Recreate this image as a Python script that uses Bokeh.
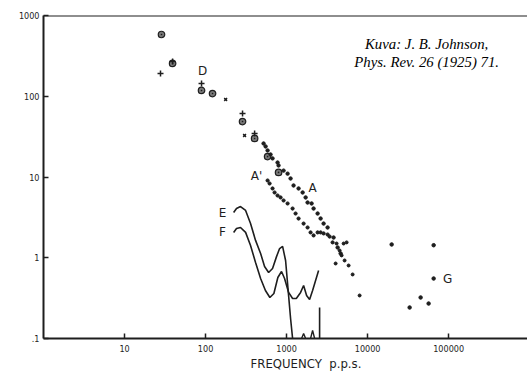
from bokeh.plotting import figure
from bokeh.models import FixedTicker, Span, Label
from bokeh.embed import file_html
from bokeh.resources import INLINE

# ---- data ----
# D: circled points
d_circ_f = [28.6, 39.2, 89.2, 122, 286, 403, 583, 796]
d_circ_v = [582, 255, 118, 108, 48.6, 30.0, 17.9, 11.4]
# D: plus points
d_plus_f = [27.8, 39.2, 89.2, 286, 403]
d_plus_v = [191, 270, 144, 61.1, 34.6]
# D: small points
d_small_f = [177, 303]
d_small_v = [91.2, 32.7]

# A (upper run)
a_f = [520, 551, 583, 634, 671, 774, 796, 918, 1029, 1120, 1219, 1406, 1578,
       1718, 1816, 2036, 2154, 2415, 2630, 2864, 3207, 3802, 4265, 4645]
a_v = [26.0, 23.9, 21.3, 19.0, 17.0, 15.1, 13.9, 12.0, 11.0, 9.58, 7.85, 7.21,
       6.43, 5.58, 4.83, 4.70, 4.07, 3.53, 3.06, 2.65, 2.37, 1.78, 1.34, 1.13]
# A' (lower run)
ap_f = [583, 617, 671, 711, 774, 843, 918, 1029, 1186, 1291, 1406, 1622, 1816,
        1977, 2154, 2415, 2630, 2864, 3207, 3396, 3698]
ap_v = [9.05, 8.31, 7.21, 6.43, 5.90, 5.58, 5.12, 4.70, 4.07, 3.53, 3.06, 2.65,
        2.37, 2.06, 1.89, 2.06, 2.06, 2.00, 1.94, 1.83, 1.55]
# common tail
tail_f = [4140, 4510, 4775, 5200, 5825, 6531, 4027, 7962, 5058, 5508]
tail_v = [1.50, 1.23, 1.07, 0.925, 0.802, 0.621, 0.849, 0.341, 1.50, 1.55]

# G
g_f = [19800, 65300, 65300, 45100, 56600, 33000]
g_v = [1.46, 1.43, 0.553, 0.322, 0.271, 0.242]

# E curve
e_f = [222, 241, 270, 312, 359, 414, 478, 535, 600, 671, 753, 820, 893, 972,
       1059, 1120, 1186]
e_v = [3.63, 4.07, 4.31, 3.85, 2.65, 1.64, 1.13, 0.780, 0.657, 0.736, 1.04,
       1.30, 1.38, 0.924, 0.340, 0.177, 0.1]
# small bumps and spike near the bottom
b1_f = [1531, 1622, 1718]
b1_v = [0.1, 0.115, 0.1]
b2_f = [1977, 2094, 2218]
b2_v = [0.1, 0.126, 0.1]
sp_f = [2555, 2555]
sp_v = [0.1, 0.242]

# F curve
f_f = [222, 241, 270, 312, 359, 414, 478, 548, 622, 697, 780, 866, 944, 1059,
       1186, 1318, 1489, 1622, 1766, 1923, 2094, 2280, 2483]
f_v = [2.06, 2.30, 2.37, 2.06, 1.42, 0.873, 0.553, 0.393, 0.322, 0.361, 0.569,
       0.676, 0.553, 0.372, 0.313, 0.313, 0.372, 0.453, 0.341, 0.304, 0.393,
       0.522, 0.695]

x_ticks = [10, 100, 1000, 10000, 100000]
x_tick_labels = ["10", "100", "1000", "10000", "100000"]
y_ticks = [0.1, 1, 10, 100, 1000]
y_tick_labels = [".1", "1", "10", "100", "1000"]

INK = "#1e1e1e"

p = figure(width=527, height=373, x_axis_type="log", y_axis_type="log",
           x_range=(1, 9.4e5), y_range=(0.1, 1000),
           output_backend="svg", toolbar_location=None,
           min_border_left=43, min_border_top=15, min_border_right=0,
           min_border_bottom=35)
p.outline_line_color = None
p.grid.visible = False
p.background_fill_color = "white"
p.border_fill_color = "white"

for ax in (p.xaxis[0], p.yaxis[0]):
    ax.axis_line_color = INK
    ax.axis_line_width = 2
    ax.major_tick_line_color = INK
    ax.major_tick_line_width = 1.5
    ax.major_tick_in = 5
    ax.major_tick_out = 0
    ax.minor_tick_line_color = None
    ax.major_label_text_font = "DejaVu Sans Condensed"
    ax.major_label_text_font_size = "9px"
    ax.major_label_text_color = INK

p.xaxis.ticker = FixedTicker(ticks=x_ticks)
p.xaxis.major_label_overrides = {t: l for t, l in zip(x_ticks, x_tick_labels)}
p.xaxis.major_label_standoff = 6
p.yaxis.ticker = FixedTicker(ticks=y_ticks)
p.yaxis.major_label_overrides = {t: l for t, l in zip(y_ticks, y_tick_labels)}
p.yaxis.major_label_standoff = 4

# x-axis title (padded on the left so it sits right of centre, as in the original)
p.xaxis.axis_label = "\u2003\u2003\u2003\u2002FREQUENCY\u00a0\u00a0p.p.s."
p.xaxis.axis_label_text_font = "DejaVu Sans Condensed"
p.xaxis.axis_label_text_font_size = "13px"
p.xaxis.axis_label_text_font_style = "normal"
p.xaxis.axis_label_text_color = INK
p.xaxis.axis_label_standoff = 1

p.add_layout(Span(location=1000, dimension="width", line_color=INK, line_width=2))

# curves
p.line(e_f, e_v, line_color=INK, line_width=1.6)
p.line(f_f, f_v, line_color=INK, line_width=1.6)
p.line(b1_f, b1_v, line_color=INK, line_width=1.4)
p.line(b2_f, b2_v, line_color=INK, line_width=1.4)
p.line(sp_f, sp_v, line_color=INK, line_width=1.6)

# points
p.scatter(d_circ_f, d_circ_v, marker="circle_dot", size=6.5, line_color=INK,
          fill_color="#777777", line_width=1.2)
p.scatter(d_plus_f, d_plus_v, marker="cross", size=6, line_color=INK, line_width=1.5)
p.scatter(d_small_f, d_small_v, marker="x", size=4, line_color=INK, line_width=1.5)
p.scatter(a_f, a_v, marker="circle", size=3.4, line_color=INK, fill_color=INK)
p.scatter(ap_f, ap_v, marker="circle", size=3.2, line_color=INK, fill_color=INK)
p.scatter(tail_f, tail_v, marker="circle", size=3, line_color=INK, fill_color=INK)
p.scatter(g_f, g_v, marker="circle", size=3.5, line_color=INK, fill_color=INK)

# series letters
for txt, fx, vy in [("D", 91.8, 203), ("A'", 426, 10.4), ("A", 2094, 7.21),
                    ("E", 162, 3.63), ("F", 162, 2.06), ("G", 97200, 0.553)]:
    p.add_layout(Label(x=fx, y=vy, text=txt, text_font="DejaVu Sans",
                       text_font_size="12px", text_color=INK,
                       text_align="center", text_baseline="middle"))

# y-axis title: epsilon-prime over epsilon
p.add_layout(Label(x=0.43, y=26.5, text="ε′", text_font="DejaVu Sans",
                   text_font_size="12px", text_color=INK, text_align="center",
                   text_baseline="middle"))
p.add_layout(Label(x=0.43, y=21.3, text="—", text_font="DejaVu Sans",
                   text_font_size="11px", text_color=INK, text_align="center",
                   text_baseline="middle"))
p.add_layout(Label(x=0.43, y=16.8, text="ε", text_font="DejaVu Sans",
                   text_font_size="12px", text_color=INK, text_align="center",
                   text_baseline="middle"))

# source note
p.add_layout(Label(x=53500, y=450, text="Kuva: J. B. Johnson,", text_font="Liberation Serif",
                   text_font_style="italic", text_font_size="14.8px", text_color="black",
                   text_align="center", text_baseline="middle"))
p.add_layout(Label(x=53500, y=269, text="Phys. Rev. 26 (1925) 71.", text_font="Liberation Serif",
                   text_font_style="italic", text_font_size="14.8px", text_color="black",
                   text_align="center", text_baseline="middle"))

open("out.html", "w").write(file_html(p, INLINE))
